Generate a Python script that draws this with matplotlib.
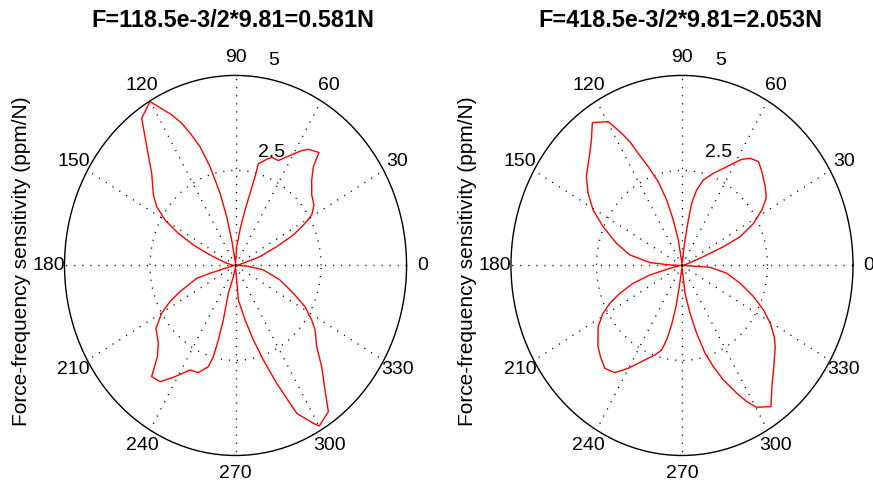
import numpy as np
import matplotlib
matplotlib.use('Agg')
import matplotlib.pyplot as plt

plt.rcParams['font.family'] = ['Liberation Sans', 'DejaVu Sans']

# chart data (angles in degrees, radius in ppm/N) in curve order
titles = ["F=118.5e-3/2*9.81=0.581N", "F=418.5e-3/2*9.81=2.053N"]
ylabel = "Force-frequency sensitivity (ppm/N)"

theta_left = [0, 18, 22.4, 25.4, 28.6, 30.8, 34.8, 39.8, 45.3, 48.8, 50.6, 55.1, 57.4, 60, 63.6,
              65.6, 69.6, 71.9, 76, 76.3, 77.4, 79.2, 81.6, 86.1, 90,
              99.5, 101.4, 103.4, 106, 108.4, 110.9, 112.8, 115.2, 120.1, 125.3, 129.7, 135.3,
              142.3, 146.1, 149.9, 153.2, 156.4, 159.7, 167.5, 180,
              195.4, 196.6, 203, 206.4, 210.2, 215.4, 222.2, 226.4, 230, 234.2, 238.3, 244.2,
              248.9, 253.4, 254.9, 255.6, 256, 254, 258, 270,
              275.2, 281, 284.9, 288.1, 291.2, 293.7, 294.7, 298.7, 300.1, 305.2, 308.6, 313.4,
              318, 323.9, 327.2, 331.9, 336.6, 343.6, 351.8, 357.7, 360]
r_left = [0.05, 0.753, 1.302, 1.872, 2.316, 2.594, 2.793, 2.899, 3.166, 3.456, 3.844, 3.726, 3.588, 3.387, 3.148,
          3.03, 3.037, 2.939, 2.753, 2.406, 1.946, 1.487, 1.033, 0.497, 0.05,
          0.68, 1.311, 1.952, 2.706, 3.295, 3.724, 4.059, 4.379, 4.984, 4.746, 4.065, 3.448,
          3.036, 2.777, 2.384, 1.874, 1.346, 0.795, 0.264, 0.05,
          0.774, 1.184, 1.763, 2.139, 2.499, 2.853, 3.047, 3.313, 3.816, 3.771, 3.459, 3.055,
          3.022, 2.778, 2.485, 2.024, 1.478, 0.762, 0.3, 0.05,
          0.912, 1.461, 2.029, 2.617, 3.327, 3.962, 4.281, 4.736, 4.883, 4.707, 4.193, 3.665,
          3.193, 2.878, 2.649, 2.302, 1.843, 1.356, 0.822, 0.327, 0.05]

theta_right = [0, 20.4, 22.2, 24, 27.9, 32, 35.7, 40.4, 46.6, 50.7, 54.7, 57.9, 60.8, 64.6, 69.2,
               74.5, 77.8, 80.2, 81.2, 82.5, 90,
               99.1, 102, 104.6, 107.5, 110.8, 113.5, 115.1, 117.3, 119.7, 124.9, 128.7, 132.4,
               140.1, 145.3, 150.7, 156.1, 163.1, 169.7, 175.4, 177.9, 180,
               192, 194.9, 198.2, 201.9, 205.3, 208.6, 213.3, 221, 225.2, 230.2, 235.1, 239.8,
               244.9, 251.4, 255, 257.1, 259, 260.8, 262, 270,
               276.9, 280.6, 283.5, 286.3, 289, 291.9, 295.5, 297.9, 300.2, 305, 309.5, 314.2,
               321.9, 325.2, 329.5, 333.8, 338.6, 344.6, 351.1, 356.6, 360]
r_right = [0.05, 0.667, 1.31, 1.863, 2.368, 2.755, 3.032, 3.198, 3.399, 3.532, 3.454, 3.297, 3.081, 2.83, 2.594,
           2.335, 2.033, 1.66, 1.211, 0.677, 0.05,
           0.68, 1.224, 1.781, 2.313, 2.782, 3.218, 3.598, 3.964, 4.358, 4.582, 4.234, 3.999,
           3.645, 3.339, 2.982, 2.523, 2.003, 1.55, 0.941, 0.35, 0.05,
           0.36, 0.971, 1.502, 1.96, 2.334, 2.628, 2.935, 3.253, 3.383, 3.524, 3.437, 3.131,
           2.794, 2.485, 2.302, 2.012, 1.595, 1.097, 0.562, 0.05,
           0.737, 1.281, 1.836, 2.408, 2.816, 3.248, 3.727, 4.054, 4.317, 4.534, 4.133, 3.839,
           3.464, 3.284, 2.996, 2.657, 2.247, 1.765, 1.326, 0.822, 0.05]

theta_ticks = list(range(0, 360, 30))
r_ticks = [2.5, 5]
r_max = 5

fig = plt.figure(figsize=(8.73, 4.86), dpi=100)
dots = (0, (0.8, 5))


def draw_panel(rect, theta_deg, r, title, title_x):
    ax = fig.add_axes(rect, projection='polar')
    ax.set_aspect('auto')  # matlab figure was stretched, circle is an ellipse
    ax.plot(np.deg2rad(theta_deg), r, color='red', lw=1.0, zorder=3)
    ax.set_rlim(0, r_max)
    ax.set_thetagrids(theta_ticks, labels=[''] * len(theta_ticks))
    ax.set_rgrids([r_ticks[0]], labels=[''])
    ax.grid(True, color='black', lw=1.0, linestyle=dots)
    ax.spines['polar'].set_linewidth(1.0)
    ax.spines['polar'].set_color('black')

    for t in theta_ticks:
        ax.text(np.deg2rad(t), 5.47, str(t), ha='center', va='center', fontsize=14)
    # radial tick labels sit near 70-78 deg like matlab
    ax.text(np.deg2rad(70.2), 3.15, '2.5', ha='center', va='center', fontsize=14)
    ax.text(np.deg2rad(78.2), 5.52, '5', ha='center', va='center', fontsize=14)

    ax.text(-0.127, 0.512, ylabel, transform=ax.transAxes, rotation=90,
            ha='center', va='center', fontsize=15)
    fig.text(title_x, 0.957, title, ha='center', va='center', fontsize=16.8, fontweight='bold')
    return ax


draw_panel([0.0739, 0.0628, 0.3918, 0.782], theta_left, r_left, titles[0], 0.2663)
draw_panel([0.5853, 0.0628, 0.3918, 0.782], theta_right, r_right, titles[1], 0.779)

plt.savefig('out.png', dpi=100, facecolor='white')
plt.close()
